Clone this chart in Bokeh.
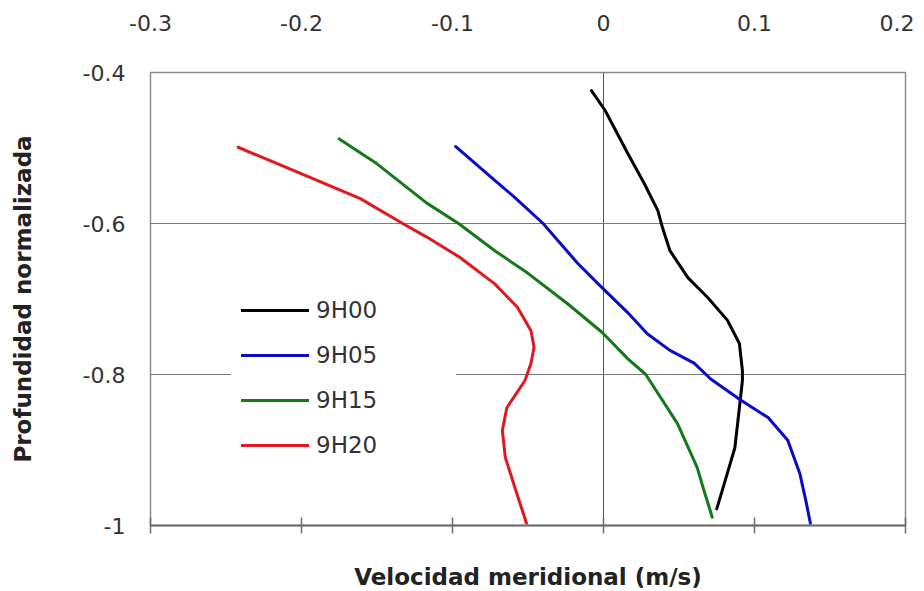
from bokeh.plotting import figure
from bokeh.models import LinearAxis, FixedTicker, Range1d, Legend, LegendItem
from bokeh.embed import file_html
from bokeh.resources import INLINE

# ---- data ----
x_ticks = [-0.3, -0.2, -0.1, 0, 0.1, 0.2]
x_tick_labels = ["-0.3", "-0.2", "-0.1", "0", "0.1", "0.2"]
y_ticks = [-0.4, -0.6, -0.8, -1]
y_tick_labels = ["-0.4", "-0.6", "-0.8", "-1"]

series_names = ["9H00", "9H05", "9H15", "9H20"]
series_colors = ["#000000", "#0a0ac8", "#17781a", "#e01820"]

depth_9h00 = [-0.424, -0.450, -0.507, -0.547, -0.583, -0.605, -0.636, -0.672,
              -0.698, -0.728, -0.759, -0.795, -0.808, -0.844, -0.897, -0.931, -0.978]
vel_9h00 = [-0.008, 0.001, 0.016, 0.027, 0.036, 0.039, 0.044, 0.056,
            0.069, 0.082, 0.090, 0.092, 0.092, 0.090, 0.087, 0.082, 0.075]

depth_9h05 = [-0.498, -0.543, -0.565, -0.600, -0.653, -0.685, -0.718, -0.746,
              -0.768, -0.785, -0.806, -0.834, -0.857, -0.887, -0.931, -0.967, -0.997]
vel_9h05 = [-0.098, -0.072, -0.059, -0.040, -0.017, -0.001, 0.016, 0.029,
            0.044, 0.060, 0.071, 0.091, 0.109, 0.122, 0.130, 0.134, 0.137]

depth_9h15 = [-0.488, -0.521, -0.573, -0.600, -0.636, -0.666, -0.706, -0.744,
              -0.779, -0.800, -0.865, -0.923, -0.950, -0.989]
vel_9h15 = [-0.175, -0.150, -0.117, -0.096, -0.072, -0.050, -0.024, -0.001,
            0.016, 0.028, 0.049, 0.062, 0.066, 0.072]

depth_9h20 = [-0.499, -0.530, -0.567, -0.600, -0.618, -0.645, -0.680, -0.711,
              -0.742, -0.764, -0.785, -0.808, -0.844, -0.874, -0.910, -0.954, -0.997]
vel_9h20 = [-0.242, -0.205, -0.161, -0.133, -0.117, -0.095, -0.072, -0.057,
            -0.048, -0.046, -0.048, -0.052, -0.064, -0.067, -0.065, -0.058, -0.051]

series_x = [vel_9h00, vel_9h05, vel_9h15, vel_9h20]
series_y = [depth_9h00, depth_9h05, depth_9h15, depth_9h20]

TICK_FONT = "DejaVu Sans"
TITLE_FONT = "DejaVu Sans"

# ---- figure ----
p = figure(
    x_range=Range1d(-0.3, 0.2), y_range=Range1d(-1, -0.4),
    frame_width=755, frame_height=453,
    min_border_left=150, min_border_right=9, min_border_top=72, min_border_bottom=64,
    x_axis_location=None, y_axis_location="left",
    output_backend="svg", toolbar_location=None,
)
p.background_fill_color = "white"
p.border_fill_color = "white"
p.outline_line_color = "#8a8a8a"
p.outline_line_width = 1.5

# grid: vertical line at 0, horizontal at -0.6 and -0.8
p.xgrid.ticker = FixedTicker(ticks=[0])
p.xgrid.grid_line_color = "#5a5a5a"
p.xgrid.grid_line_width = 1
p.ygrid.ticker = FixedTicker(ticks=[-0.6, -0.8])
p.ygrid.grid_line_color = "#7a7a7a"
p.ygrid.grid_line_width = 1.2

# left axis
ya = p.yaxis[0]
ya.ticker = FixedTicker(ticks=y_ticks)
ya.major_label_overrides = dict(zip(y_ticks, y_tick_labels))
ya.axis_line_color = None
ya.major_tick_line_color = None
ya.minor_tick_line_color = None
ya.major_label_standoff = 19
ya.major_label_text_font = TICK_FONT
ya.major_label_text_font_size = "22px"
ya.major_label_text_color = "#333333"
ya.axis_label = "Profundidad normalizada"
ya.axis_label_text_font = TITLE_FONT
ya.axis_label_text_font_style = "bold"
ya.axis_label_text_font_size = "23px"
ya.axis_label_text_color = "#222222"
ya.axis_label_standoff = 44

# top axis with labels
xa_top = LinearAxis(
    ticker=FixedTicker(ticks=x_ticks),
    major_label_overrides=dict(zip(x_ticks, x_tick_labels)),
    axis_line_color=None, major_tick_line_color=None, minor_tick_line_color=None,
    major_label_standoff=36,
    major_label_text_font=TICK_FONT, major_label_text_font_size="22px",
    major_label_text_color="#333333",
)
p.add_layout(xa_top, "above")

# bottom axis: line + crossing ticks + title (no tick labels)
xa_bot = LinearAxis(
    ticker=FixedTicker(ticks=x_ticks),
    major_label_overrides={t: "" for t in x_ticks},
    axis_line_color="#6e6e6e", axis_line_width=2,
    major_tick_line_color="#6e6e6e", major_tick_line_width=1.5,
    major_tick_in=8, major_tick_out=8,
    minor_tick_line_color=None,
    major_label_standoff=0,
    axis_label="Velocidad meridional (m/s)",
    axis_label_text_font=TITLE_FONT, axis_label_text_font_style="bold",
    axis_label_text_font_size="23px", axis_label_text_color="#222222",
    axis_label_standoff=30,
)
p.add_layout(xa_bot, "below")

items = []
for name, color, xs, ys in zip(series_names, series_colors, series_x, series_y):
    r = p.line(xs, ys, line_color=color, line_width=3, line_join="round", line_cap="round")
    items.append(LegendItem(label=name, renderers=[r]))

legend = Legend(
    items=items, location=(81, 50),
    glyph_width=68, glyph_height=40, label_height=40, label_width=130, spacing=5,
    label_standoff=7, padding=10, margin=0,
    label_text_font=TICK_FONT, label_text_font_size="23px",
    label_text_color="#333333",
    border_line_alpha=0, background_fill_color="white", background_fill_alpha=1,
)
p.add_layout(legend)

open("out.html", "w").write(file_html(p, INLINE))
